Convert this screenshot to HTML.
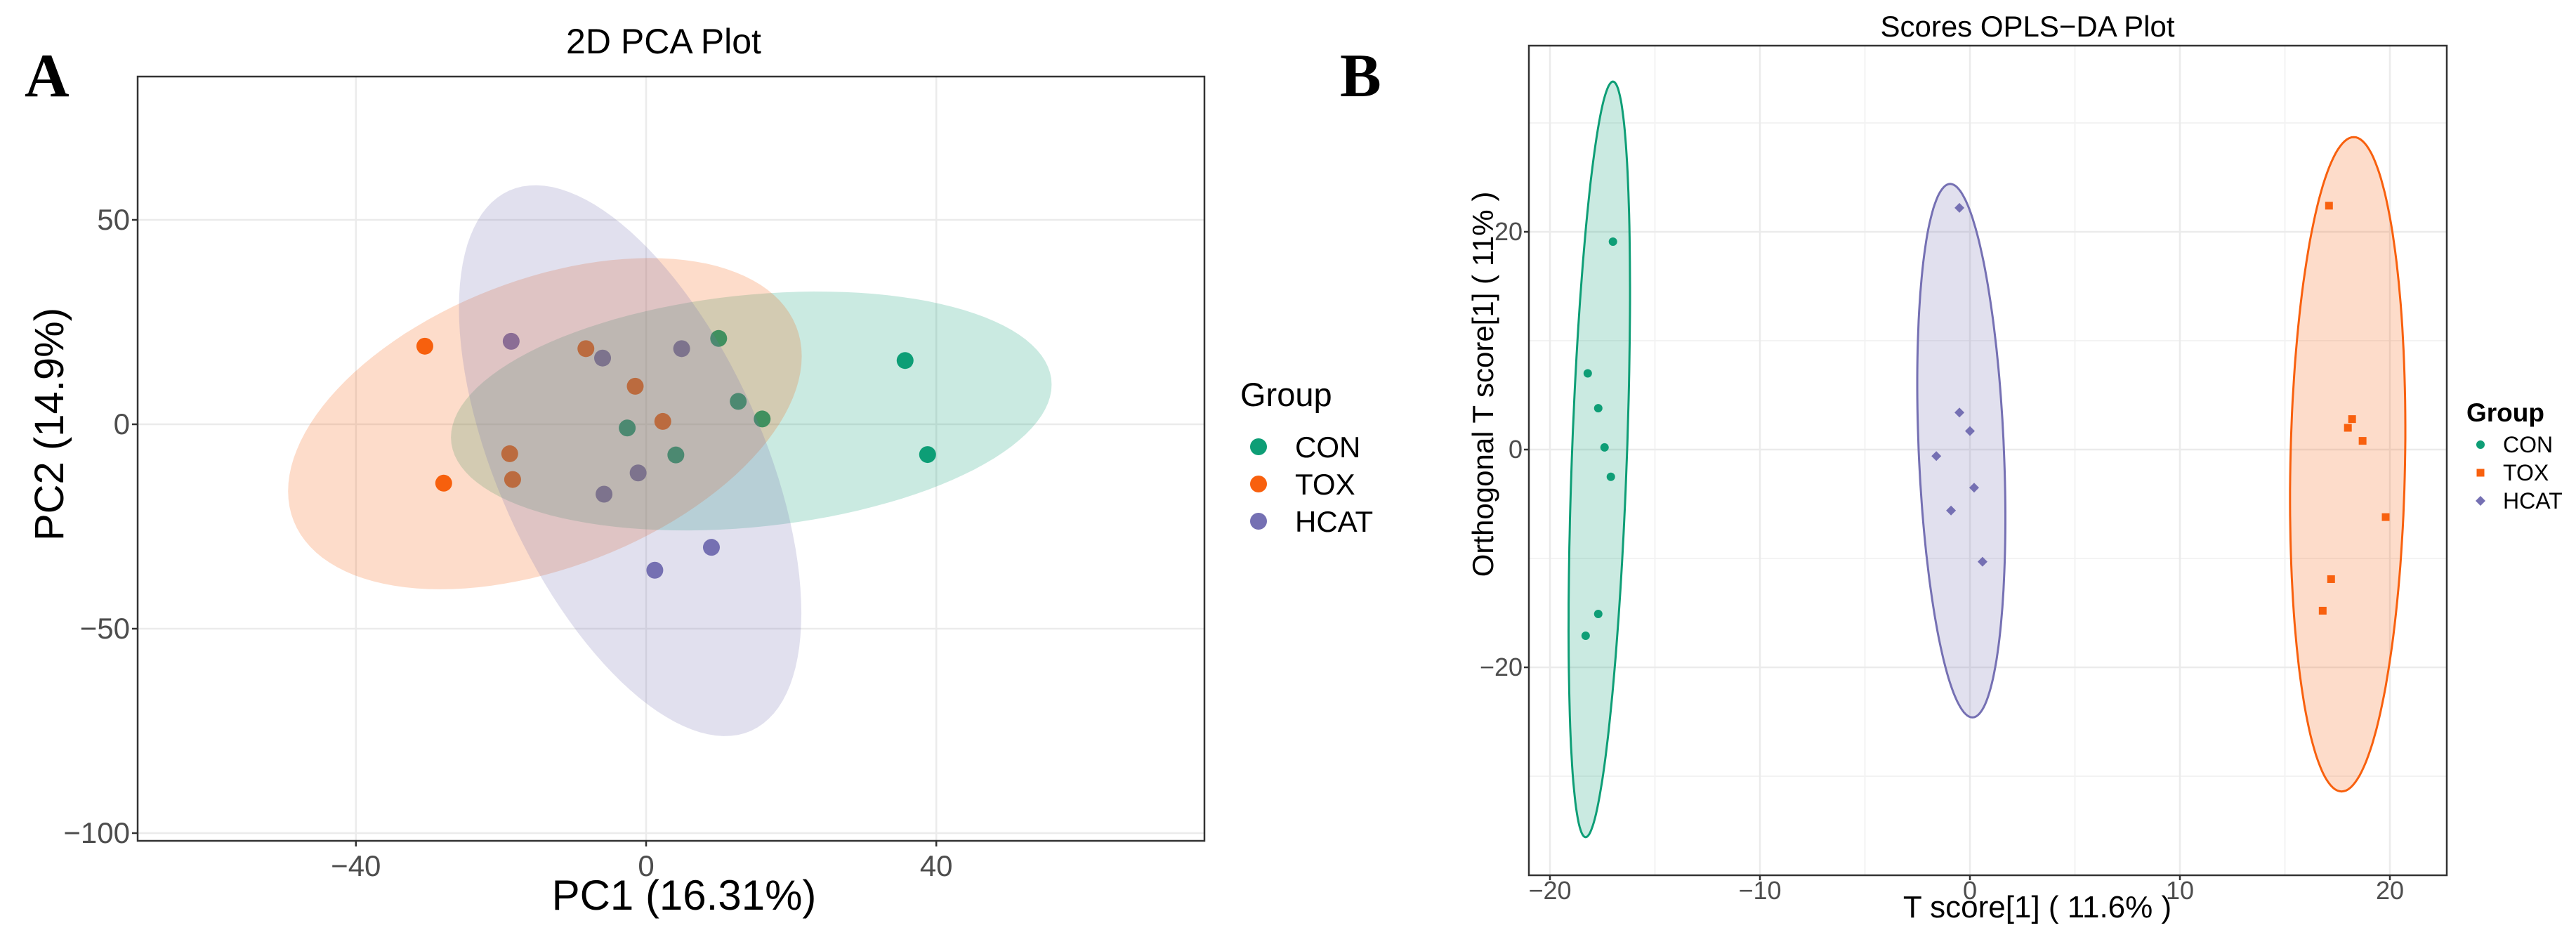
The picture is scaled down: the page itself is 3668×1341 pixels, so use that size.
<!DOCTYPE html>
<html><head><meta charset="utf-8">
<style>
html,body{margin:0;padding:0;background:#fff;}
svg{display:block;font-family:"Liberation Sans",Arial,sans-serif;}
.nar{font-family:"Liberation Sans Narrow","Liberation Sans",Arial,sans-serif;}
</style></head>
<body>
<svg id="fig" width="3668" height="1341" viewBox="0 0 3668 1341" xmlns="http://www.w3.org/2000/svg">
<rect width="3668" height="1341" fill="#fff"/>
<g id="panelA"></g>
<g id="panelB"></g>
</svg>
<script>
// ---------- Panel A data (PCA) ----------
const groupsA = ["CON","TOX","HCAT"];
const conPC1 = [10, 35.7, 12.7, 16, -2.6, 4.1, 38.8];
const conPC2 = [21, 15.6, 5.6, 1.3, -0.9, -7.5, -7.4];
const toxPC1 = [-30.5, -8.3, -1.5, 2.3, -18.8, -18.4, -27.9];
const toxPC2 = [19.1, 18.5, 9.3, 0.7, -7.2, -13.5, -14.4];
const hcatPC1 = [-18.6, -6, 4.9, -1.1, -5.8, 9, 1.2];
const hcatPC2 = [20.3, 16.2, 18.5, -11.9, -17.1, -30.1, -35.7];
const ellCenterXA = [14.5, -13.95, -2.2];
const ellCenterYA = [3.25, 0.15, -8.9];
const ellUxA = [41.4, 35.4, 23.6];
const ellUyA = [6.45, 16.5, -37.3];
const ellVyA = [28.5, 37.0, 56.1];
const xTicksA = [-40, 0, 40];
const yTicksA = [50, 0, -50, -100];

// ---------- Panel B data (OPLS-DA) ----------
const conT = [-17.0, -18.2, -17.7, -17.4, -17.1, -17.7, -18.3];
const conO = [19.1, 7.0, 3.8, 0.2, -2.5, -15.1, -17.1];
const toxT = [17.1, 18.2, 18.0, 18.7, 19.8, 17.2, 16.8];
const toxO = [22.4, 2.8, 2.0, 0.8, -6.2, -11.9, -14.8];
const hcatT = [-0.5, -0.5, 0, -1.6, 0.2, -0.9, 0.6];
const hcatO = [22.2, 3.4, 1.7, -0.6, -3.5, -5.6, -10.3];
const ellCenterXB = [-17.65, 17.99, -0.41];
const ellCenterYB = [-0.9, -1.35, -0.1];
const ellUxB = [0.65, 0.29, -0.53];
const ellUyB = [34.7, 30.05, 24.5];
const ellVxB = [1.31, 2.73, 2.03];
const xTicksB = [-20, -10, 0, 10, 20];
const xMinorB = [-15, -5, 5, 15];
const yTicksB = [20, 0, -20];
const yMinorB = [30, 10, -10, -30];

const NS = "http://www.w3.org/2000/svg";
const COL = {CON:"#0e9e76", TOX:"#f8600e", HCAT:"#7570b3"};
function mk(parent, tag, attrs, text){
  const e = document.createElementNS(NS, tag);
  for (const k in attrs) e.setAttribute(k, attrs[k]);
  if (text !== undefined) e.textContent = text;
  parent.appendChild(e);
  return e;
}

// ===== Panel A =====
(function(){
  const g = document.getElementById("panelA");
  const L=196,R=1715,T=109,B=1197;
  const xs = v => 920 + v*10.33;
  const ys = v => 604 - v*5.82;
  const bg = mk(g,"rect",{x:L,y:T,width:R-L,height:B-T,fill:"#fff"});
  
  
  xTicksA.forEach(t=>{
    const l=mk(g,"line",{x1:xs(t),x2:xs(t),y1:T,y2:B,stroke:"#ebebeb","stroke-width":2.5});
    
    
    const tk=mk(g,"line",{x1:xs(t),x2:xs(t),y1:B,y2:B+8,stroke:"#333","stroke-width":2.5});
    
    
    const tx=mk(g,"text",{x:xs(t),y:B+50,"text-anchor":"middle","font-size":42,fill:"#4d4d4d",class:"nar"},String(t).replace("-","\u2212"));
    
    
  });
  yTicksA.forEach(t=>{
    const l=mk(g,"line",{x1:L,x2:R,y1:ys(t),y2:ys(t),stroke:"#ebebeb","stroke-width":2.5});
    
    
    const tk=mk(g,"line",{x1:L-8,x2:L,y1:ys(t),y2:ys(t),stroke:"#333","stroke-width":2.5});
    
    
    const tx=mk(g,"text",{x:L-11,y:ys(t)+14,"text-anchor":"end","font-size":42,fill:"#4d4d4d",class:"nar"},String(t).replace("-","\u2212"));
    
    
  });
  const sets=[[conPC1,conPC2,"CON"],[toxPC1,toxPC2,"TOX"],[hcatPC1,hcatPC2,"HCAT"]];
  sets.forEach(([xa,ya,name])=>{
    xa.forEach((v,i)=>{
      const c=mk(g,"circle",{cx:xs(v),cy:ys(ya[i]),r:12,fill:COL[name]});
      
      
    });
  });
  groupsA.forEach((name,k)=>{
    let d="";
    for(let i=0;i<=120;i++){
      const t=i/120*2*Math.PI;
      const x=ellCenterXA[k]+ellUxA[k]*Math.cos(t);
      const y=ellCenterYA[k]+ellUyA[k]*Math.cos(t)+ellVyA[k]*Math.sin(t);
      d+=(i?"L":"M")+xs(x).toFixed(1)+","+ys(y).toFixed(1);
    }
    const p=mk(g,"path",{d:d+"Z",fill:COL[name],"fill-opacity":0.22,stroke:"none"});
    
    
  });
  const fr=mk(g,"rect",{x:L,y:T,width:R-L,height:B-T,fill:"none",stroke:"#333","stroke-width":2.5});
  
  
  const ti=mk(g,"text",{x:945,y:76,"text-anchor":"middle","font-size":50,class:"nar"},"2D PCA Plot");
  
  
  const lab=mk(g,"text",{x:35,y:137,"font-size":88,"font-weight":"bold","font-family":"Liberation Serif, serif"},"A");
  
  
  const xt=mk(g,"text",{x:974,y:1295,"text-anchor":"middle","font-size":60,class:"nar"},"PC1 (16.31%)");
  
  
  const yt=mk(g,"text",{x:0,y:0,"text-anchor":"middle","font-size":58,transform:"translate(90,604) rotate(-90)"},"PC2 (14.9%)");
  
  
  const lg=mk(g,"text",{x:1766,y:578,"font-size":47},"Group");
  
  
  groupsA.forEach((name,k)=>{
    const y=636+k*53;
    const c=mk(g,"circle",{cx:1792,cy:y,r:12,fill:COL[name]});
    
    
    const t=mk(g,"text",{x:1844,y:y+15,"font-size":42},name);
    
    
  });
})();

// ===== Panel B =====
(function(){
  const g = document.getElementById("panelB");
  const L=2177,R=3484,T=65,B=1246;
  const xs = v => 2805 + v*29.9;
  const ys = v => 640 - v*15.5;
  xMinorB.forEach(t=>{
    const l=mk(g,"line",{x1:xs(t),x2:xs(t),y1:T,y2:B,stroke:"#f3f3f3","stroke-width":2});
    
    
  });
  yMinorB.forEach(t=>{
    const l=mk(g,"line",{x1:L,x2:R,y1:ys(t),y2:ys(t),stroke:"#f3f3f3","stroke-width":2});
    
    
  });
  xTicksB.forEach(t=>{
    const l=mk(g,"line",{x1:xs(t),x2:xs(t),y1:T,y2:B,stroke:"#ebebeb","stroke-width":2.5});
    
    
    const tk=mk(g,"line",{x1:xs(t),x2:xs(t),y1:B,y2:B+7,stroke:"#333","stroke-width":2.5});
    
    
    const tx=mk(g,"text",{x:xs(t),y:1280,"text-anchor":"middle","font-size":36,fill:"#4d4d4d",class:"nar"},String(t).replace("-","\u2212"));
    
    
  });
  yTicksB.forEach(t=>{
    const l=mk(g,"line",{x1:L,x2:R,y1:ys(t),y2:ys(t),stroke:"#ebebeb","stroke-width":2.5});
    
    
    const tk=mk(g,"line",{x1:L-7,x2:L,y1:ys(t),y2:ys(t),stroke:"#333","stroke-width":2.5});
    
    
    const tx=mk(g,"text",{x:L-9,y:ys(t)+12,"text-anchor":"end","font-size":36,fill:"#4d4d4d",class:"nar"},String(t).replace("-","\u2212"));
    
    
  });
  const names=["CON","TOX","HCAT"];
  names.forEach((name,k)=>{
    let d="";
    for(let i=0;i<=160;i++){
      const t=i/160*2*Math.PI;
      const x=ellCenterXB[k]+ellUxB[k]*Math.cos(t)+ellVxB[k]*Math.sin(t);
      const y=ellCenterYB[k]+ellUyB[k]*Math.cos(t);
      d+=(i?"L":"M")+xs(x).toFixed(1)+","+ys(y).toFixed(1);
    }
    const p=mk(g,"path",{d:d+"Z",fill:COL[name],"fill-opacity":0.22,stroke:COL[name],"stroke-width":3});
    
    
  });
  conT.forEach((v,i)=>{
    const c=mk(g,"circle",{cx:xs(v),cy:ys(conO[i]),r:6,fill:COL.CON});
    
    
  });
  toxT.forEach((v,i)=>{
    const c=mk(g,"rect",{x:xs(v)-5.5,y:ys(toxO[i])-5.5,width:11,height:11,fill:COL.TOX});
    
    
  });
  hcatT.forEach((v,i)=>{
    const x=xs(v),y=ys(hcatO[i]);
    const c=mk(g,"polygon",{points:`${x},${y-7} ${x+7},${y} ${x},${y+7} ${x-7},${y}`,fill:COL.HCAT});
    
    
  });
  const fr=mk(g,"rect",{x:L,y:T,width:R-L,height:B-T,fill:"none",stroke:"#333","stroke-width":2.5});
  
  
  const ti=mk(g,"text",{x:2887,y:52,"text-anchor":"middle","font-size":42,class:"nar"},"Scores OPLS\u2212DA Plot");
  
  
  const lab=mk(g,"text",{x:1908,y:137,"font-size":88,"font-weight":"bold","font-family":"Liberation Serif, serif"},"B");
  
  
  const xt=mk(g,"text",{x:2901,y:1306,"text-anchor":"middle","font-size":44,class:"nar"},"T score[1] ( 11.6% )");
  
  
  const yt=mk(g,"text",{x:0,y:0,"text-anchor":"middle","font-size":42,transform:"translate(2126,547) rotate(-90)"},"Orthogonal T score[1] ( 11% )");
  
  
  const lg=mk(g,"text",{x:3512,y:600,"font-size":37,"font-weight":"bold"},"Group");
  
  
  names.forEach((name,k)=>{
    const y=633+k*40, x=3532;
    let m;
    if(k===0) m=mk(g,"circle",{cx:x,cy:y,r:6,fill:COL[name]});
    else if(k===1) m=mk(g,"rect",{x:x-5.5,y:y-5.5,width:11,height:11,fill:COL[name]});
    else m=mk(g,"polygon",{points:`${x},${y-7} ${x+7},${y} ${x},${y+7} ${x-7},${y}`,fill:COL[name]});
    
    
    const t=mk(g,"text",{x:3564,y:y+11,"font-size":32,class:"nar"},name);
    
    
  });
})();
</script>
</body></html>
